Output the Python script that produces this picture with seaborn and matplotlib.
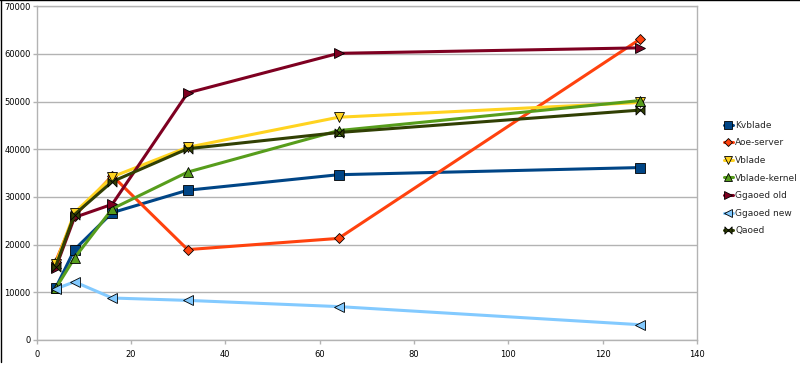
import numpy as np
import pandas as pd
import matplotlib
matplotlib.use("Agg")
import matplotlib.pyplot as plt
from matplotlib.path import Path
from matplotlib.lines import Line2D
import seaborn as sns

x_vals = [4, 8, 16, 32, 64, 128]
kvblade = [10900, 18950, 26700, 31400, 34650, 36150]
aoe_server = [16450, 26000, 34450, 18950, 21300, 63100]
vblade = [16000, 26700, 34200, 40400, 46700, 49800]
vblade_kernel = [10800, 17200, 27500, 35200, 43900, 50200]
ggaoed_old = [15100, 25700, 28450, 51800, 60100, 61250]
ggaoed_new = [10700, 12200, 8800, 8300, 7000, 3200]
qaoed = [15400, 26300, 33200, 40100, 43500, 48200]

series_names = ["Kvblade", "Aoe-server", "Vblade", "Vblade-kernel",
                "Ggaoed old", "Ggaoed new", "Qaoed"]
series_values = [kvblade, aoe_server, vblade, vblade_kernel,
                 ggaoed_old, ggaoed_new, qaoed]
colors = ["#004586", "#ff420e", "#ffd320", "#579d1c",
          "#7e0021", "#83caff", "#314004"]

bowtie = Path([(-1, 1), (-1, -1), (1, 1), (1, -1), (-1, 1)],
              [Path.MOVETO, Path.LINETO, Path.LINETO, Path.LINETO, Path.CLOSEPOLY])
markers = ["s", "D", "v", "^", ">", "<", bowtie]
msizes = [6.5, 5, 7, 7, 7, 7, 6.5]

sns.set_theme(style="white")
plt.rcParams['font.family'] = ['DejaVu Sans']

fig = plt.figure(figsize=(8, 3.82), dpi=100)
ax = fig.add_axes([0.046, 0.110, 0.825, 0.874])

for name, vals, c, m, ms in zip(series_names, series_values, colors, markers, msizes):
    df = pd.DataFrame({"x": x_vals, "y": vals})
    sns.lineplot(data=df, x="x", y="y", ax=ax, color=c, linewidth=2.2,
                 marker=m, markersize=ms, markeredgecolor="black",
                 markeredgewidth=0.6, markerfacecolor=c, label=name)

ax.set_xlim(0, 140)
ax.set_ylim(0, 70000)
ax.set_xticks(np.arange(0, 141, 20))
ax.set_yticks(np.arange(0, 70001, 10000))
ax.set_xlabel("")
ax.set_ylabel("")
ax.yaxis.grid(True, color="#b3b3b3", linewidth=1)
ax.xaxis.grid(False)
ax.set_axisbelow(True)
for s in ax.spines.values():
    s.set_color("#b3b3b3")
    s.set_linewidth(1)
ax.tick_params(axis="both", which="both", length=3, width=1, color="#b3b3b3",
               labelsize=6, labelcolor="black", direction="out",
               bottom=True, left=True, pad=1.5)
ax.tick_params(axis="x", pad=4)

ax.get_legend().remove()
handles, labels = ax.get_legend_handles_labels()
fig.legend(handles, labels, loc="center left", bbox_to_anchor=(0.900, 0.534),
           frameon=False, fontsize=6.5, handlelength=1.0, handletextpad=0.3,
           labelspacing=0.95, borderaxespad=0, markerscale=0.8)

# figure border (left and top)
fig.add_artist(Line2D([0.0008, 0.0008], [1 - 362 / 382, 1], transform=fig.transFigure,
                      color="black", linewidth=1.0))
fig.add_artist(Line2D([0, 1], [0.999, 0.999], transform=fig.transFigure,
                      color="black", linewidth=1.0))

fig.savefig("out.png", dpi=100)
